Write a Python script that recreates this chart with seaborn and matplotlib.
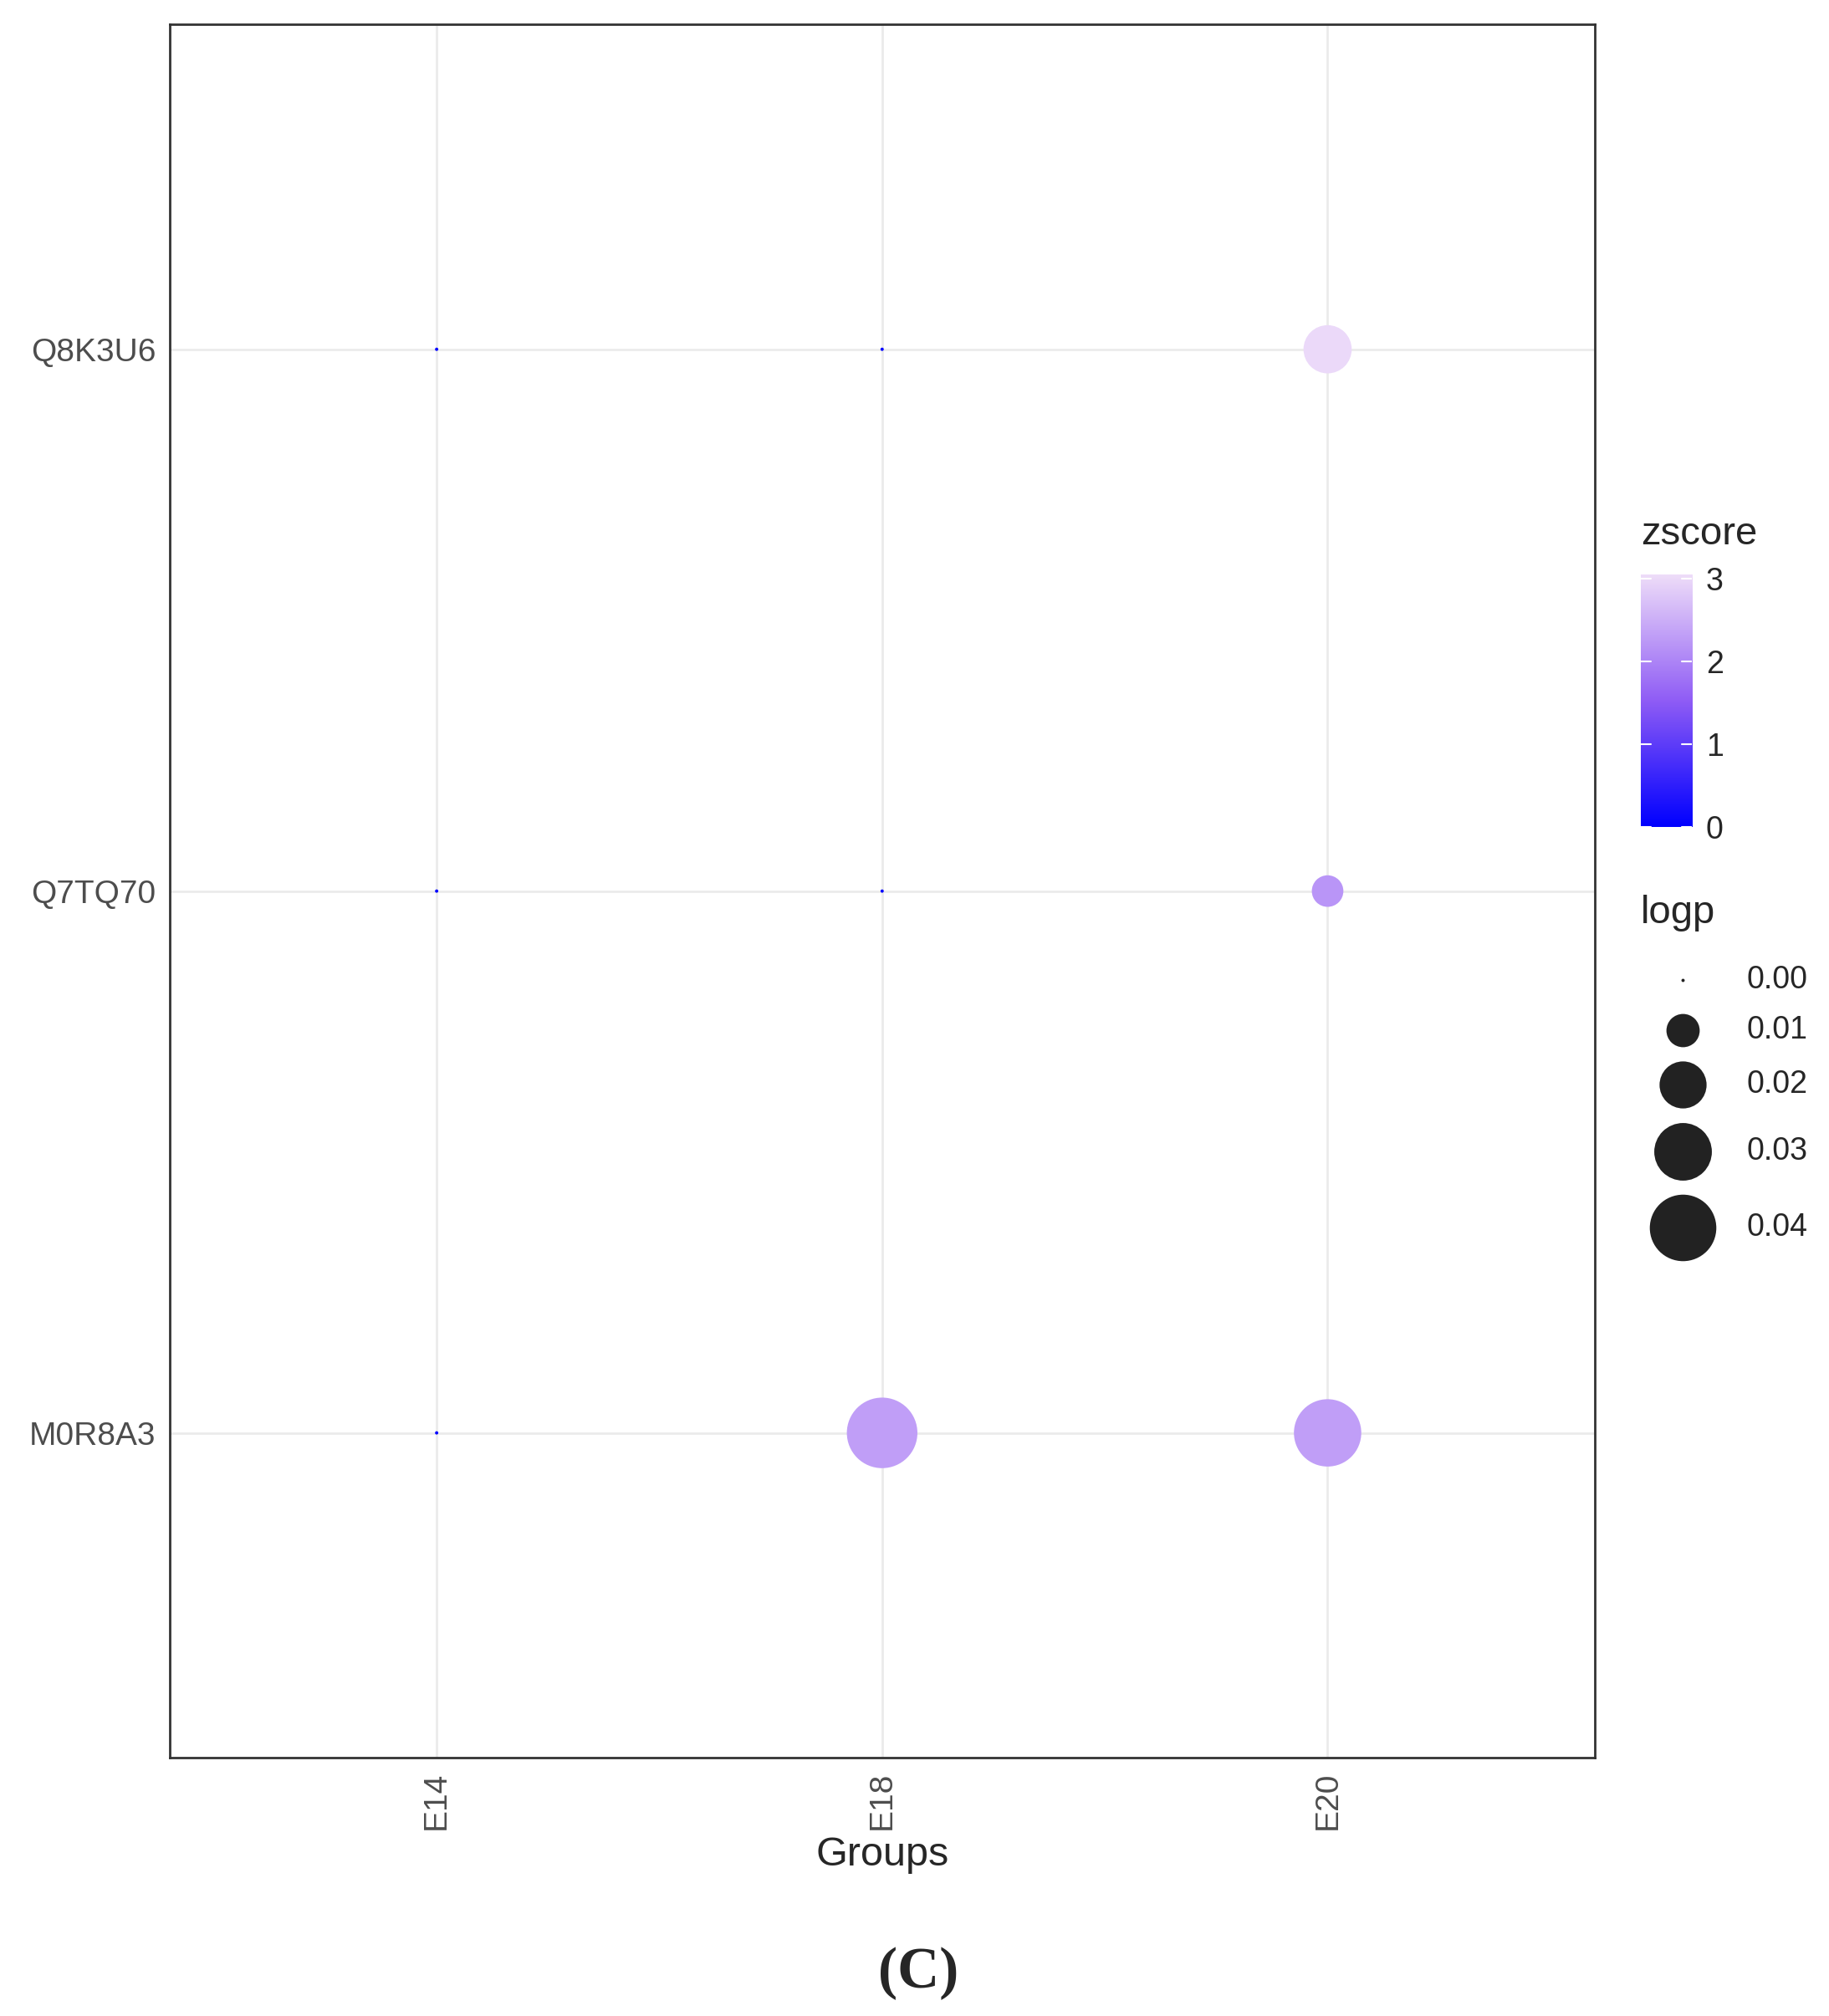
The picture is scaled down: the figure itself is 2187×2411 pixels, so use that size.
import numpy as np
import pandas as pd
import seaborn as sns
import matplotlib
matplotlib.use("Agg")
import matplotlib.pyplot as plt
from matplotlib.colors import LinearSegmentedColormap, Normalize

proteins = ["Q8K3U6", "Q7TQ70", "M0R8A3"]
groups = ["E14", "E18", "E20"]
zscore = {"Q8K3U6": [0.0, 0.0, 3.0], "Q7TQ70": [0.0, 0.0, 2.2], "M0R8A3": [0.0, 2.3, 2.3]}
logp = {"Q8K3U6": [0.0, 0.0, 0.021], "Q7TQ70": [0.0, 0.0, 0.009], "M0R8A3": [0.0, 0.045, 0.041]}
size_breaks = [0.00, 0.01, 0.02, 0.03, 0.04]
z_breaks = [0, 1, 2, 3]

rows = []
for p in proteins:
    for g, z, l in zip(groups, zscore[p], logp[p]):
        rows.append(dict(protein=p, group=g, zscore=z, logp=l))
df = pd.DataFrame(rows)

sns.set_style("white")
plt.rcParams['font.family'] = ['Liberation Sans', 'DejaVu Sans']
cmap = LinearSegmentedColormap.from_list("zc", ["#0000FF", "#8F5CF5", "#EEDDF9"])
norm = Normalize(0, 3.05)
K = 82000.0
def sz(v):
    return max(v * K, 8)

fig = plt.figure(figsize=(21.87, 24.11), dpi=100)
ax = fig.add_axes([0.0926, 0.128, 0.7794, 0.86])
df["ypos"] = df["protein"].map({"M0R8A3": 0, "Q7TQ70": 1, "Q8K3U6": 2})
df["xpos"] = df["group"].map({g: i for i, g in enumerate(groups)})
df["s"] = df["logp"].apply(sz)
sns.scatterplot(data=df, x="xpos", y="ypos", size="s", sizes=(df["s"].min(), df["s"].max()),
                hue="zscore", palette=cmap, hue_norm=norm, linewidth=0, legend=False,
                ax=ax, zorder=3)
ax.set_xlim(-0.6, 2.6)
ax.set_ylim(-0.6, 2.6)
ax.set_xticks(range(3))
ax.set_xticklabels(groups, rotation=90, fontsize=28, color="#4D4D4D")
ax.set_yticks([0, 1, 2])
ax.set_yticklabels(["M0R8A3", "Q7TQ70", "Q8K3U6"], fontsize=28, color="#4D4D4D")
ax.tick_params(length=8, width=1.5, color="#333333")
ax.grid(True, color="#EBEBEB", lw=2)
ax.set_axisbelow(True)
for s in ax.spines.values():
    s.set_color("#333333"); s.set_linewidth(2)
ax.set_xlabel("Groups", fontsize=35, labelpad=6)
ax.set_ylabel("")

# colorbar
cax = fig.add_axes([0.897, 0.590, 0.028, 0.125])
grad = np.linspace(0, 3.05, 256).reshape(-1, 1)
cax.imshow(grad, aspect="auto", origin="lower", cmap=cmap, norm=norm, extent=[0, 1, 0, 3.05])
cax.set_xticks([])
cax.yaxis.tick_right()
cax.set_yticks(z_breaks)
cax.set_yticklabels([str(b) for b in z_breaks], fontsize=27)
cax.tick_params(axis="y", length=0, pad=12)
for b in z_breaks:
    cax.plot([0, 0.2], [b, b], color="white", lw=1.5)
    cax.plot([0.8, 1], [b, b], color="white", lw=1.5)
cax.set_xlim(0, 1); cax.set_ylim(0, 3.05)
for s in cax.spines.values():
    s.set_visible(False)
fig.text(0.897, 0.735, "zscore", fontsize=34, va="center")

# size legend
fig.text(0.897, 0.547, "logp", fontsize=34, va="center")
ys = [0.514, 0.489, 0.462, 0.429, 0.391]
for v, y in zip(size_breaks, ys):
    fig.add_artist(plt.Line2D([0.920], [y], marker="o", markersize=np.sqrt(sz(v)),
                              color="#222222", markeredgewidth=0, transform=fig.transFigure))
    fig.text(0.955, y, f"{v:.2f}", fontsize=27, va="center")

fig.text(0.502, 0.021, "(C)", fontsize=50, family="Liberation Serif", fontweight="bold",
         ha="center", va="center")
fig.savefig("out.png", dpi=100)
